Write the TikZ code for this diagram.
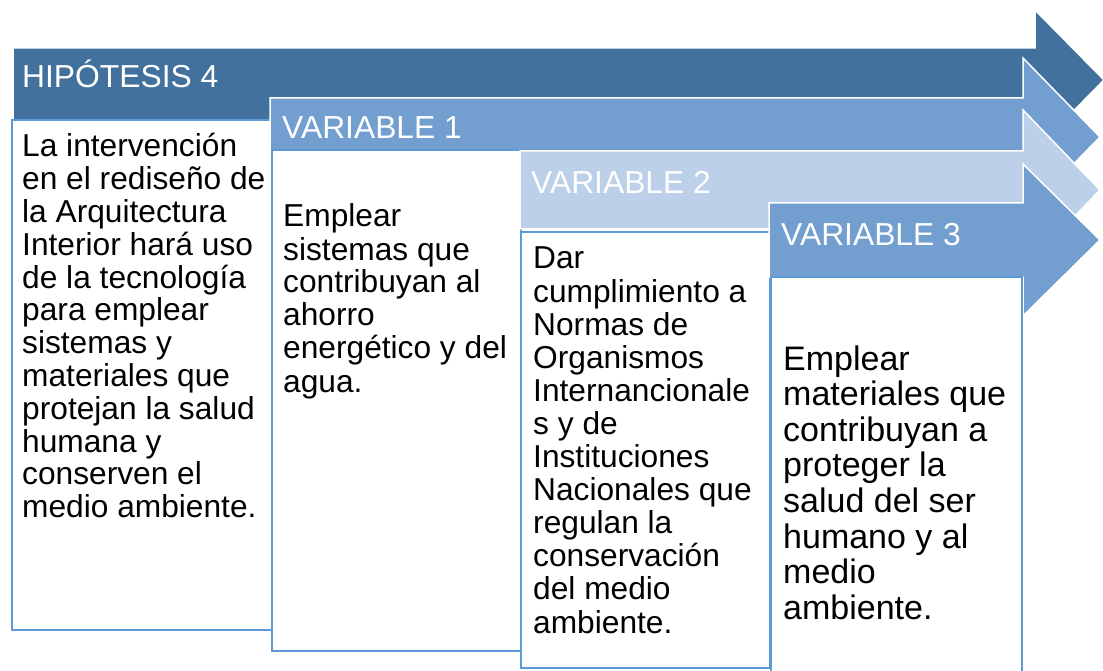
\documentclass[tikz,border=0pt]{standalone}
\usepackage{fontspec}
\setmainfont{Liberation Sans}
\definecolor{darkblue}{HTML}{41719C}
\definecolor{midblue}{HTML}{729FCF}
\definecolor{lightblue}{HTML}{BDD0E9}
\definecolor{boxblue}{HTML}{5B9BD5}
\begin{document}
\begin{tikzpicture}[x=1pt,y=-1pt,
  arrowshape/.style={draw=white, line width=1.5pt, line join=miter},
  boxshape/.style={draw=boxblue, line width=2.4pt, fill=white},
  title/.style={anchor=base west, inner sep=0pt, text=white, font=\fontsize{31.8}{33}\selectfont},
  body/.style={anchor=base west, inner sep=0pt}]
\clip (0,0) rectangle (1103,671);
\fill[white] (0,0) rectangle (1103,671);
% arrow 1
\filldraw[arrowshape, fill=darkblue] (13,48) -- (1035,48) -- (1035,10) -- (1104,80) -- (1035,150) -- (1035,120) -- (13,120) -- cycle;
\draw[boxshape] (12,120) rectangle (272,630);
\node[title] (h4) at (22,88) {HIPÓTESIS 4};
\node[body] (t1) at (22,157) {\parbox[t]{250pt}{\raggedright\fontsize{31.7}{32.8}\selectfont
La intervención\\en el rediseño de\\la Arquitectura\\Interior hará uso\\de la tecnología\\para emplear\\sistemas y\\materiales que\\protejan la salud\\humana y\\conserven el\\medio ambiente.}};
% arrow 2
\filldraw[arrowshape, fill=midblue] (270,98) -- (1023,98) -- (1023,58) -- (1100,137) -- (1023,216) -- (1023,176) -- (270,176) -- cycle;
\draw[boxshape] (272,150) rectangle (521,651);
\node[title] (v1) at (282,139) {VARIABLE 1};
\node[body] (t2) at (283,227) {\parbox[t]{240pt}{\raggedright\fontsize{31.7}{33}\selectfont
Emplear\\sistemas que\\contribuyan al\\ahorro\\energético y del\\agua.}};
% arrow 3
\filldraw[arrowshape, fill=lightblue] (520,151) -- (1023,151) -- (1023,110) -- (1100,190) -- (1023,270) -- (1023,229) -- (520,229) -- cycle;
\draw[boxshape] (521,232) rectangle (770,668);
\node[title] (v2) at (531,194) {VARIABLE 2};
\node[body] (t3) at (533,269) {\parbox[t]{240pt}{\raggedright\fontsize{31.7}{33.1}\selectfont
Dar\\cumplimiento a\\Normas de\\Organismos\\Internancionale\\s y de\\Instituciones\\Nacionales que\\regulan la\\conservación\\del medio\\ambiente.}};
% arrow 4
\filldraw[arrowshape, fill=midblue] (769,203) -- (1023,203) -- (1023,164) -- (1100,240) -- (1023,316) -- (1023,277) -- (769,277) -- cycle;
\draw[boxshape] (771,277) rectangle (1022,700);
\node[title] (v3) at (781,245) {VARIABLE 3};
\node[body] (t4) at (783,370) {\parbox[t]{240pt}{\raggedright\fontsize{34}{35.6}\selectfont
Emplear\\materiales que\\contribuyan a\\proteger la\\salud del ser\\humano y al\\medio\\ambiente.}};
\end{tikzpicture}
\end{document}
